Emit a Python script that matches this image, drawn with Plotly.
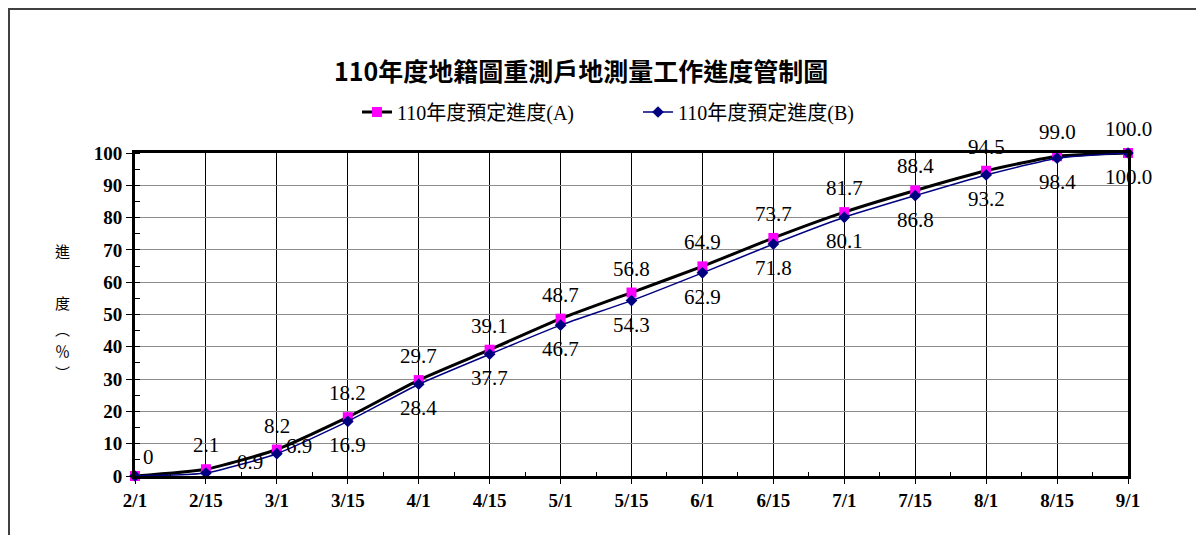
import plotly.graph_objects as go

dates = ["2/1", "2/15", "3/1", "3/15", "4/1", "4/15", "5/1", "5/15",
         "6/1", "6/15", "7/1", "7/15", "8/1", "8/15", "9/1"]
series_a = [0, 2.1, 8.2, 18.2, 29.7, 39.1, 48.7, 56.8, 64.9, 73.7, 81.7, 88.4, 94.5, 99.0, 100.0]
series_b = [0, 0.9, 6.9, 16.9, 28.4, 37.7, 46.7, 54.3, 62.9, 71.8, 80.1, 86.8, 93.2, 98.4, 100.0]
name_a = "110年度預定進度(A)"
name_b = "110年度預定進度(B)"
title = "110年度地籍圖重測戶地測量工作進度管制圖"
y_ticks = list(range(0, 101, 10))

# page has an 8px body margin; work in page pixels and convert
OFF = 8
PAGE_W, PAGE_H = 1204, 535
W, H = PAGE_W - OFF, PAGE_H - OFF
PL, PR, PT, PB = 135, 1128, 153, 476   # plot area in page pixels
L, R, T, B = PL - OFF, PAGE_W - PR, PT - OFF, PAGE_H - PB
PW, PH = PR - PL, PB - PT

def px(xp):
    return (xp - PL) / PW

def py(yp):
    return (PB - yp) / PH

FONT = "Liberation Serif, Noto Sans CJK TC, serif"
xs = list(range(len(dates)))

fig = go.Figure()
fig.add_trace(go.Scatter(
    x=xs, y=series_a, name=name_a, mode="lines+markers", cliponaxis=False,
    line=dict(color="black", width=3, shape="spline", smoothing=0.5),
    marker=dict(symbol="square", size=10, color="#FF00FF", line=dict(width=0)),
))
fig.add_trace(go.Scatter(
    x=xs, y=series_b, name=name_b, mode="lines+markers", cliponaxis=False,
    line=dict(color="#000080", width=1.5, shape="spline", smoothing=0.5),
    marker=dict(symbol="diamond", size=9, color="#000080", line=dict(width=0)),
))

def fmt(v):
    return "0" if v == 0 else f"{v:.1f}"

ann = []
lab_font = dict(family=FONT, size=21, color="black")
for i, v in enumerate(series_a):
    xsft, ysft = 0, 24
    if i == 0:
        xsft, ysft = 13, 19
    ann.append(dict(x=xs[i], y=v, xref="x", yref="y", text=fmt(v), showarrow=False,
                    xanchor="center", yanchor="middle",
                    xshift=xsft, yshift=ysft, font=lab_font))
special_b = {1: (44, 11), 2: (22, 8)}
for i, v in enumerate(series_b):
    if i == 0:
        continue
    xsft, ysft = special_b.get(i, (0, -24))
    ann.append(dict(x=xs[i], y=v, xref="x", yref="y", text=fmt(v), showarrow=False,
                    xanchor="center", yanchor="middle",
                    xshift=xsft, yshift=ysft, font=lab_font))

# title
ann.append(dict(x=px(581), y=py(70), xref="paper", yref="paper", text=title,
                xanchor="center", yanchor="middle", showarrow=False,
                font=dict(family="Noto Sans CJK TC", size=25, color="black", weight="bold")))
# y axis title (vertical)
for ch, yp in [("進", 250), ("度", 302), ("︵", 328), ("％", 350), ("︶", 372)]:
    ann.append(dict(x=px(62), y=py(yp), xref="paper", yref="paper", text=ch,
                    xanchor="center", yanchor="middle",
                    showarrow=False, font=dict(family="Noto Sans CJK TC", size=15, color="black")))

# outer chart border (drawn as close to page edge as the figure allows)
shapes = [dict(type="rect", xref="paper", yref="paper",
               x0=px(OFF + 1), x1=px(1198), y0=py(560), y1=py(OFF + 1),
               line=dict(color="#404040", width=2), fillcolor="rgba(0,0,0,0)", layer="above")]

fig.update_layout(
    width=W, height=H,
    margin=dict(l=L, r=R, t=T, b=B, autoexpand=False),
    paper_bgcolor="white", plot_bgcolor="white",
    showlegend=True,
    legend=dict(orientation="h", x=px(357), y=py(112), xanchor="left", yanchor="middle",
                font=dict(family=FONT, size=20, color="black"),
                entrywidth=236, bgcolor="rgba(0,0,0,0)"),
    annotations=ann, shapes=shapes,
    xaxis=dict(range=[0, len(dates) - 1], tickvals=xs, ticktext=dates,
               showgrid=True, gridcolor="black", gridwidth=1,
               showline=True, linecolor="black", linewidth=3, mirror=True,
               ticks="outside", ticklen=5, tickcolor="black", tickwidth=1,
               minor=dict(tickvals=[i + 0.5 for i in xs[:-1]], ticks="inside", ticklen=4,
                          tickcolor="black", showgrid=False),
               tickfont=dict(family=FONT, size=19, color="black", weight="bold"),
               zeroline=False, fixedrange=True),
    yaxis=dict(range=[0, 100], tickvals=y_ticks,
               showgrid=True, gridcolor="#8c8c8c", gridwidth=1,
               showline=True, linecolor="black", linewidth=3, mirror=True,
               ticks="outside", ticklen=6, tickcolor="black", tickwidth=1,
               minor=dict(dtick=5, ticks="inside", ticklen=5, tickcolor="black", showgrid=False),
               tickfont=dict(family=FONT, size=19, color="black", weight="bold"),
               zeroline=False, fixedrange=True),
)

fig.write_html("out.html")
